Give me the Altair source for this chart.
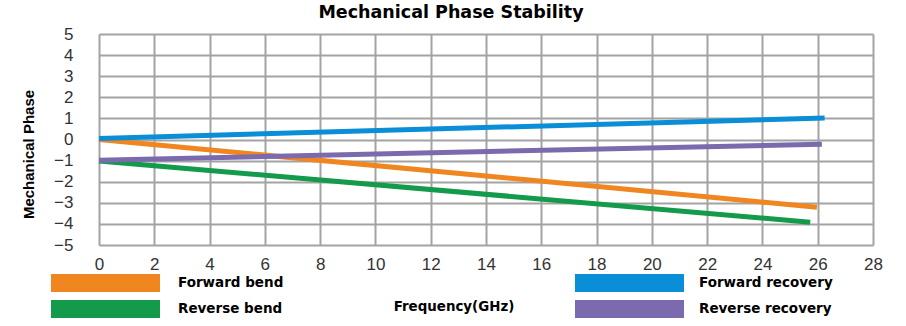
import altair as alt
import pandas as pd

# ---- data ----
bend_series = ["Forward bend", "Reverse bend"]
recovery_series = ["Forward recovery", "Reverse recovery"]

forward_bend_freq = [0, 25.97]
forward_bend_phase = [0.0, -3.21]
reverse_bend_freq = [0, 25.73]
reverse_bend_phase = [-1.02, -3.92]
forward_recovery_freq = [0, 26.25]
forward_recovery_phase = [0.05, 1.02]
reverse_recovery_freq = [0, 26.15]
reverse_recovery_phase = [-0.98, -0.22]

x_ticks = list(range(0, 29, 2))
y_ticks = list(range(-5, 6, 1))

bend_colors = ["#F0861F", "#139A4B"]
recovery_colors = ["#0A8ED8", "#7B6BAE"]


def rows(name, xs, ys):
    return [{"series": name, "freq": x, "phase": y} for x, y in zip(xs, ys)]


bend_df = pd.DataFrame(
    rows("Forward bend", forward_bend_freq, forward_bend_phase)
    + rows("Reverse bend", reverse_bend_freq, reverse_bend_phase)
)
rec_df = pd.DataFrame(
    rows("Forward recovery", forward_recovery_freq, forward_recovery_phase)
    + rows("Reverse recovery", reverse_recovery_freq, reverse_recovery_phase)
)

GRID = "#A3A3A3"

x_enc = alt.X(
    "freq:Q",
    scale=alt.Scale(domain=[0, 28], nice=False),
    axis=alt.Axis(
        values=x_ticks,
        title="Frequency(GHz)",
        titleFont="DejaVu Sans",
        titleFontSize=13.4,
        titleFontWeight="bold",
        titleColor="black",
        titleX=354.5,
        titleY=65.5,
        titleAlign="center",
        titleBaseline="alphabetic",
        titleAnchor="start",
        labelFont="Liberation Sans",
        labelFontSize=17,
        labelColor="#333333",
        labelPadding=11,
        labelFlush=False,
        ticks=False,
        domain=False,
        grid=True,
        gridColor=GRID,
        gridWidth=2,
        gridOpacity=1,
    ),
)

y_enc = alt.Y(
    "phase:Q",
    scale=alt.Scale(domain=[-5, 5], nice=False),
    axis=alt.Axis(
        values=y_ticks,
        title="Mechanical Phase",
        titleFont="Liberation Sans",
        titleFontSize=15,
        titleFontWeight="bold",
        titleColor="black",
        titleAngle=270,
        titleX=-66,
        titleY=120,
        titleAlign="center",
        titleBaseline="alphabetic",
        labelFont="Liberation Sans",
        labelFontSize=17,
        labelColor="#333333",
        labelPadding=26,
        labelFlush=False,
        ticks=False,
        domain=False,
        grid=True,
        gridColor=GRID,
        gridWidth=2,
        gridOpacity=1,
    ),
)


def legend(x, offset):
    return alt.Legend(
        orient="none",
        legendX=x,
        legendY=240,
        title=None,
        direction="vertical",
        symbolType="stroke",
        symbolSize=11881,
        symbolStrokeWidth=18,
        symbolOpacity=1,
        clipHeight=18,
        rowPadding=8,
        labelOffset=offset,
        labelFont="DejaVu Sans",
        labelFontWeight="bold",
        labelFontSize=13.5,
        labelColor="black",
        padding=0,
    )


bend = (
    alt.Chart(bend_df)
    .mark_line(strokeWidth=5, strokeCap="butt")
    .encode(
        x=x_enc,
        y=y_enc,
        color=alt.Color(
            "series:N",
            scale=alt.Scale(domain=bend_series, range=bend_colors),
            legend=legend(-57, 9),
        ),
    )
)

recovery = (
    alt.Chart(rec_df)
    .mark_line(strokeWidth=5, strokeCap="butt")
    .encode(
        x=x_enc,
        y=y_enc,
        color=alt.Color(
            "series:N",
            scale=alt.Scale(domain=recovery_series, range=recovery_colors),
            legend=legend(467, 6),
        ),
    )
)

chart = (
    alt.layer(bend, recovery)
    .resolve_scale(color="independent")
    .properties(
        width=774,
        height=211,
        autosize=alt.AutoSizeParams(type="none"),
        padding={"left": 99, "top": 34, "right": 33, "bottom": 81},
        title=alt.TitleParams(
            text="Mechanical Phase Stability",
            font="DejaVu Sans",
            fontSize=17.5,
            fontWeight="bold",
            color="black",
            frame="group",
            anchor="middle",
            dx=-35,
            dy=16.5,
            offset=6,
            baseline="alphabetic",
        ),
        background="white",
    )
    .configure_view(stroke=None)
)

chart.save("out.html", embed_options={"renderer": "svg", "actions": False})
